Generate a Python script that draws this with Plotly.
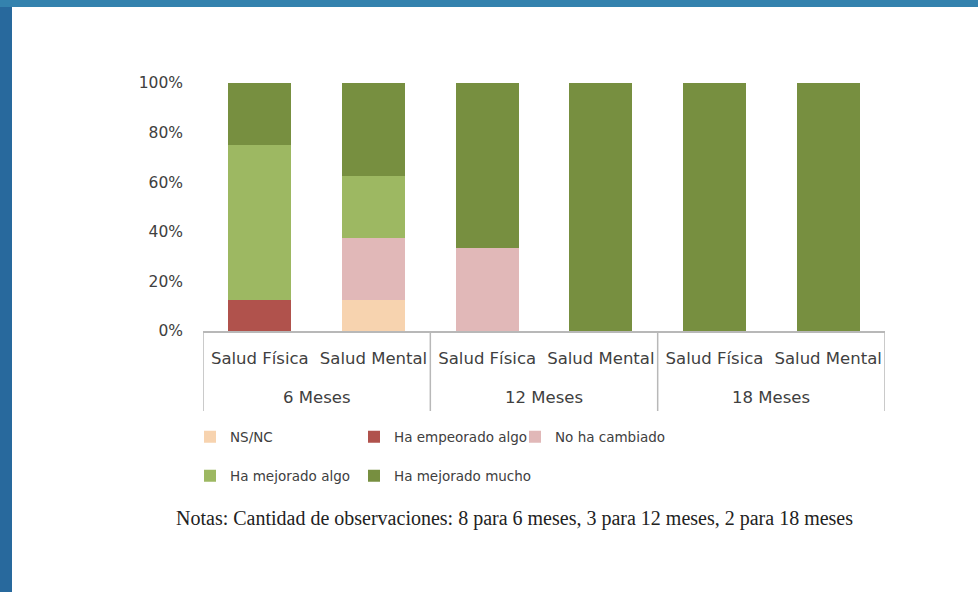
import plotly.graph_objects as go

periods = ["6 Meses", "6 Meses", "12 Meses", "12 Meses", "18 Meses", "18 Meses"]
aspects = ["Salud Física", "Salud Mental", "Salud Física", "Salud Mental", "Salud Física", "Salud Mental"]

ns_nc = [0, 12.5, 0, 0, 0, 0]
empeorado_algo = [12.5, 0, 0, 0, 0, 0]
no_cambiado = [0, 25, 33.3, 0, 0, 0]
mejorado_algo = [62.5, 25, 0, 0, 0, 0]
mejorado_mucho = [25, 37.5, 66.7, 100, 100, 100]

y_ticks = [0, 20, 40, 60, 80, 100]
y_ticktext = ["0%", "20%", "40%", "60%", "80%", "100%"]

series_names = ["NS/NC", "Ha empeorado algo", "No ha cambiado", "Ha mejorado algo", "Ha mejorado mucho"]
series_values = [ns_nc, empeorado_algo, no_cambiado, mejorado_algo, mejorado_mucho]
series_colors = ["#f7d3af", "#b0524c", "#e1b8b8", "#9db862", "#778f40"]

# legend layout: (text start x px, row centre y px) for each series
legend_slots = [(231, 437), (395, 437), (556, 437), (231, 476), (395, 476)]

W, H = 978, 592
L, R, T, B = 203, 93, 83, 261
pw, ph = W - L - R, H - T - B

def px_x(p):
    return (p - L) / pw

def px_y(p):
    return (H - B - p) / ph

keys = [f"{p} | {a}" for p, a in zip(periods, aspects)]

SANS = "DejaVu Sans, sans-serif"
TXT = "#404040"
GRID = "#b8b8b8"

fig = go.Figure()
legend_layouts = {}
for i, (name, vals, col) in enumerate(zip(series_names, series_values, series_colors)):
    lg = "legend" if i == 0 else f"legend{i + 1}"
    fig.add_trace(go.Bar(
        x=keys, y=vals, name=name,
        marker=dict(color=col, line=dict(width=0)),
        legend=lg, showlegend=True,
        hovertemplate="%{y}%<extra>" + name + "</extra>",
    ))
    tx, ty = legend_slots[i]
    legend_layouts[lg] = dict(
        orientation="h", x=px_x(tx - 41), y=px_y(ty), xanchor="left", yanchor="middle",
        font=dict(size=13.5, color=TXT, family=SANS), itemwidth=30,
        bgcolor="rgba(0,0,0,0)", visible=True,
    )

shapes = [
    dict(type="rect", xref="paper", yref="paper", layer="below",
         x0=px_x(12), x1=px_x(W + 5), y0=px_y(W), y1=px_y(7),
         fillcolor="white", line=dict(width=0)),
    dict(type="rect", xref="paper", yref="paper", layer="below",
         x0=px_x(0), x1=px_x(W + 5), y0=px_y(7), y1=px_y(-5),
         fillcolor="#3482ae", line=dict(width=0)),
]

# group table: dividers at group boundaries and period labels below
annotations = []
groups = []
for i, p in enumerate(periods):
    if not groups or groups[-1][0] != p:
        groups.append([p, i, i])
    else:
        groups[-1][2] = i
for p, i0, i1 in groups:
    shapes.append(dict(type="line", xref="x", yref="paper", x0=i0 - 0.5, x1=i0 - 0.5,
                       y0=0, y1=px_y(411), line=dict(color=GRID, width=1.5)))
    annotations.append(dict(text=p, xref="x", yref="paper", x=(i0 + i1) / 2, y=px_y(398),
                            xanchor="center", yanchor="middle", showarrow=False,
                            font=dict(size=16.5, color=TXT, family=SANS)))
last = len(periods) - 1
shapes.append(dict(type="line", xref="x", yref="paper", x0=last + 0.5, x1=last + 0.5,
                   y0=0, y1=px_y(411), line=dict(color=GRID, width=1.5)))

annotations.append(dict(
    text="Notas: Cantidad de observaciones: 8 para 6 meses, 3 para 12 meses, 2 para 18 meses",
    xref="paper", yref="paper", x=px_x(514), y=px_y(518),
    xanchor="center", yanchor="middle", showarrow=False,
    font=dict(family="Liberation Serif, Times New Roman, serif", size=20, color="#222222")))

fig.update_layout(
    width=W, height=H,
    margin=dict(l=L, r=R, t=T, b=B),
    paper_bgcolor="#28699d",
    plot_bgcolor="white",
    barmode="stack",
    bargap=0.445,
    showlegend=True,
    font=dict(family=SANS, color=TXT),
    shapes=shapes,
    annotations=annotations,
    xaxis=dict(
        type="category", tickvals=keys, ticktext=aspects,
        range=[-0.5, len(keys) - 0.5],
        showline=True, linecolor=GRID, linewidth=1.5,
        tickfont=dict(size=16.5, color=TXT, family=SANS),
        tickangle=0, ticks="", showgrid=False,
        ticklabelstandoff=11,
    ),
    yaxis=dict(
        range=[0, 100], tickvals=y_ticks, ticktext=y_ticktext,
        showgrid=False, zeroline=False, showline=False, ticks="",
        tickfont=dict(size=15.5, color=TXT, family=SANS),
        ticklabelstandoff=19,
    ),
    **legend_layouts,
)

fig.write_html("out.html", config={"displayModeBar": False},
               post_script="document.body.style.margin='0';")
